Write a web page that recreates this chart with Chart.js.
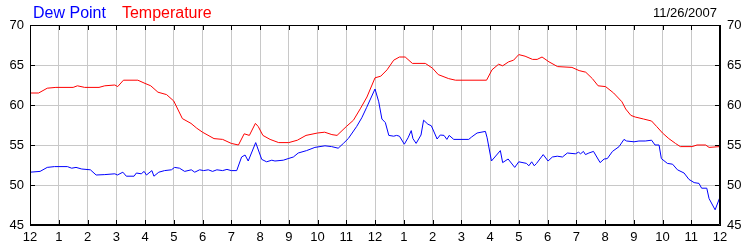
<!DOCTYPE html>
<html>
<head>
<meta charset="utf-8">
<script src="https://cdn.jsdelivr.net/npm/chart.js@4"></script>
<style>
  html, body { margin: 0; padding: 0; background: #fff; }
  #wrap { width: 750px; height: 250px; }
</style>
</head>
<body>
<div id="wrap"><canvas id="chart" width="750" height="250"></canvas></div>
<script>
// hours since midnight
const tempHours = [0, 0.3, 0.6, 0.9, 1.5, 1.65, 1.9, 2.4, 2.6, 2.95, 3.05, 3.25, 3.75, 4.0, 4.2, 4.45, 4.75, 5.0, 5.3, 5.6, 5.8, 6.0, 6.4, 6.7, 7.0, 7.25, 7.45, 7.63, 7.84, 7.94, 8.1, 8.35, 8.65, 9.0, 9.3, 9.6, 10.0, 10.25, 10.5, 10.68, 11.0, 11.25, 11.5, 11.72, 12.0, 12.2, 12.42, 12.65, 12.85, 13.05, 13.3, 13.75, 14.0, 14.2, 14.56, 14.8, 15.88, 16.07, 16.3, 16.44, 16.65, 16.82, 17.0, 17.22, 17.48, 17.64, 17.81, 18.05, 18.35, 18.85, 19.1, 19.33, 19.56, 19.76, 20.02, 20.3, 20.59, 20.72, 20.9, 21.05, 21.34, 21.62, 21.8, 22.0, 22.22, 22.45, 22.62, 23.03, 23.2, 23.5, 23.62, 24.0];
const tempValues = [61.5, 61.5, 62.1, 62.2, 62.2, 62.4, 62.2, 62.2, 62.4, 62.5, 62.3, 63.1, 63.1, 62.7, 62.4, 61.6, 61.3, 60.5, 58.3, 57.7, 57.1, 56.6, 55.8, 55.7, 55.2, 55.0, 56.4, 56.2, 57.7, 57.3, 56.2, 55.7, 55.3, 55.3, 55.6, 56.2, 56.5, 56.6, 56.3, 56.2, 57.3, 58.1, 59.6, 61.0, 63.4, 63.6, 64.4, 65.6, 66.0, 66.0, 65.2, 65.2, 64.6, 63.8, 63.3, 63.1, 63.1, 64.4, 65.1, 64.9, 65.4, 65.6, 66.3, 66.1, 65.7, 65.7, 66.0, 65.4, 64.8, 64.7, 64.3, 64.1, 63.3, 62.4, 62.3, 61.5, 60.4, 59.5, 58.7, 58.5, 58.25, 58.0, 57.3, 56.5, 55.8, 55.2, 54.8, 54.8, 55.0, 55.0, 54.7, 54.8];

const dewHours = [0, 0.35, 0.6, 0.85, 1.3, 1.45, 1.6, 1.8, 2.1, 2.3, 2.6, 2.95, 3.04, 3.23, 3.35, 3.62, 3.7, 3.87, 3.97, 4.05, 4.24, 4.31, 4.48, 4.68, 4.92, 5.03, 5.2, 5.38, 5.61, 5.73, 5.9, 6.04, 6.2, 6.35, 6.5, 6.7, 6.85, 7.0, 7.19, 7.36, 7.48, 7.59, 7.85, 8.06, 8.23, 8.41, 8.52, 8.81, 8.98, 9.16, 9.33, 9.62, 9.91, 10.26, 10.49, 10.72, 10.9, 11.07, 11.36, 11.54, 11.71, 12.0, 12.13, 12.24, 12.36, 12.48, 12.65, 12.75, 12.85, 13.02, 13.15, 13.26, 13.32, 13.43, 13.6, 13.69, 13.84, 13.96, 14.16, 14.27, 14.4, 14.5, 14.58, 14.74, 15.26, 15.36, 15.55, 15.84, 15.9, 16.05, 16.36, 16.44, 16.63, 16.86, 17.0, 17.27, 17.35, 17.45, 17.54, 17.62, 17.85, 18.02, 18.17, 18.34, 18.52, 18.69, 18.97, 19.08, 19.15, 19.25, 19.32, 19.44, 19.6, 19.83, 19.97, 20.08, 20.26, 20.49, 20.66, 20.75, 21.01, 21.18, 21.4, 21.62, 21.74, 21.88, 21.96, 22.17, 22.35, 22.52, 22.75, 22.92, 23.1, 23.27, 23.36, 23.54, 23.62, 23.83, 24.0];
const dewValues = [51.6, 51.7, 52.2, 52.3, 52.3, 52.1, 52.2, 52.0, 51.9, 51.25, 51.3, 51.4, 51.25, 51.6, 51.1, 51.1, 51.5, 51.4, 51.7, 51.25, 51.8, 51.1, 51.6, 51.8, 51.9, 52.2, 52.1, 51.7, 51.9, 51.6, 51.9, 51.8, 51.9, 51.7, 51.9, 51.8, 51.95, 51.8, 51.8, 53.5, 53.75, 53.0, 55.3, 53.2, 52.9, 53.1, 53.0, 53.1, 53.3, 53.5, 54.0, 54.3, 54.7, 54.9, 54.8, 54.6, 55.2, 55.8, 57.3, 58.4, 59.7, 62.0, 60.4, 58.25, 57.8, 56.2, 56.1, 56.2, 56.1, 55.1, 55.9, 56.8, 55.8, 55.2, 56.25, 58.1, 57.6, 57.4, 55.75, 56.25, 56.2, 55.7, 56.2, 55.7, 55.7, 56.0, 56.5, 56.7, 55.9, 53.0, 54.3, 52.8, 53.25, 52.2, 52.9, 52.7, 52.4, 52.9, 52.4, 52.7, 53.8, 53.0, 53.5, 53.6, 53.5, 54.0, 53.9, 54.1, 53.9, 54.2, 53.8, 54.0, 54.2, 52.8, 53.25, 53.3, 54.2, 54.8, 55.7, 55.5, 55.4, 55.5, 55.5, 55.6, 55.0, 55.0, 53.3, 52.7, 52.6, 51.9, 51.5, 50.7, 50.3, 50.2, 49.6, 49.6, 48.3, 46.9, 48.5];

const hourLabels = ["12", "1", "2", "3", "4", "5", "6", "7", "8", "9", "10", "11"];
const dateText = "11/26/2007";

const font = "'Liberation Sans', Arial, sans-serif";

function toPoints(hours, values) {
  return hours.map((h, i) => ({ x: h, y: values[i] }));
}

// frame, inward ticks, legend text and date
const framePlugin = {
  id: "frame",
  afterDraw(chart) {
    const ctx = chart.ctx;
    const a = chart.chartArea;
    const xs = chart.scales.x, ys = chart.scales.y;
    ctx.save();
    ctx.strokeStyle = "#000";
    ctx.lineWidth = 1;
    ctx.beginPath();
    ctx.rect(Math.round(a.left) + 0.5, Math.round(a.top) + 0.5,
      Math.round(a.right - a.left) - 1, Math.round(a.bottom - a.top) - 1);
    xs.ticks.forEach(t => {
      const px = Math.round(xs.getPixelForValue(t.value)) + 0.5;
      ctx.moveTo(px, a.top); ctx.lineTo(px, a.top + 5);
      ctx.moveTo(px, a.bottom); ctx.lineTo(px, a.bottom - 5);
    });
    ys.ticks.forEach(t => {
      const py = Math.round(ys.getPixelForValue(t.value)) + 0.5;
      ctx.moveTo(a.left, py); ctx.lineTo(a.left + 5, py);
      ctx.moveTo(a.right, py); ctx.lineTo(a.right - 5, py);
    });
    ctx.stroke();

    ctx.font = "16px " + font;
    ctx.textBaseline = "alphabetic";
    ctx.textAlign = "left";
    let x = 33;
    chart.data.datasets.forEach(ds => {
      ctx.fillStyle = ds.borderColor;
      ctx.fillText(ds.label, x, 18);
      x += ctx.measureText(ds.label).width + 16;
    });
    ctx.font = "13px " + font;
    ctx.fillStyle = "#000";
    ctx.textAlign = "right";
    ctx.fillText(dateText, 717, 17);
    ctx.restore();
  }
};

new Chart(document.getElementById("chart"), {
  type: "line",
  data: {
    datasets: [
      {
        label: "Dew Point",
        data: toPoints(dewHours, dewValues),
        borderColor: "#0000ff",
        borderWidth: 1,
        pointRadius: 0,
        tension: 0
      },
      {
        label: "Temperature",
        data: toPoints(tempHours, tempValues),
        borderColor: "#ff0000",
        borderWidth: 1,
        pointRadius: 0,
        tension: 0
      }
    ]
  },
  options: {
    responsive: false,
    animation: false,
    layout: { padding: { top: 25, left: 0, right: 0, bottom: 0 } },
    plugins: {
      legend: { display: false },
      tooltip: { enabled: false }
    },
    scales: {
      x: {
        type: "linear",
        min: 0,
        max: 24,
        afterFit(scale) { scale.height = 25; },
        grid: { color: "#c8c8c8", drawTicks: false },
        border: { color: "#000" },
        ticks: {
          stepSize: 1,
          autoSkip: false,
          maxRotation: 0,
          padding: 5,
          color: "#000",
          font: { family: font, size: 13 },
          callback: v => hourLabels[v % 12]
        }
      },
      y: {
        position: "left",
        min: 45,
        max: 70,
        afterFit(scale) { scale.width = 30; },
        grid: { color: "#c8c8c8", drawTicks: false },
        border: { color: "#000" },
        ticks: {
          stepSize: 5,
          padding: 6,
          color: "#000",
          font: { family: font, size: 13 }
        }
      },
      y2: {
        position: "right",
        display: true,
        min: 45,
        max: 70,
        afterFit(scale) { scale.width = 30; },
        grid: { display: false, drawTicks: false },
        border: { color: "#000" },
        ticks: {
          stepSize: 5,
          padding: 7,
          color: "#000",
          font: { family: font, size: 13 }
        }
      }
    }
  },
  plugins: [framePlugin]
});
</script>
</body>
</html>
